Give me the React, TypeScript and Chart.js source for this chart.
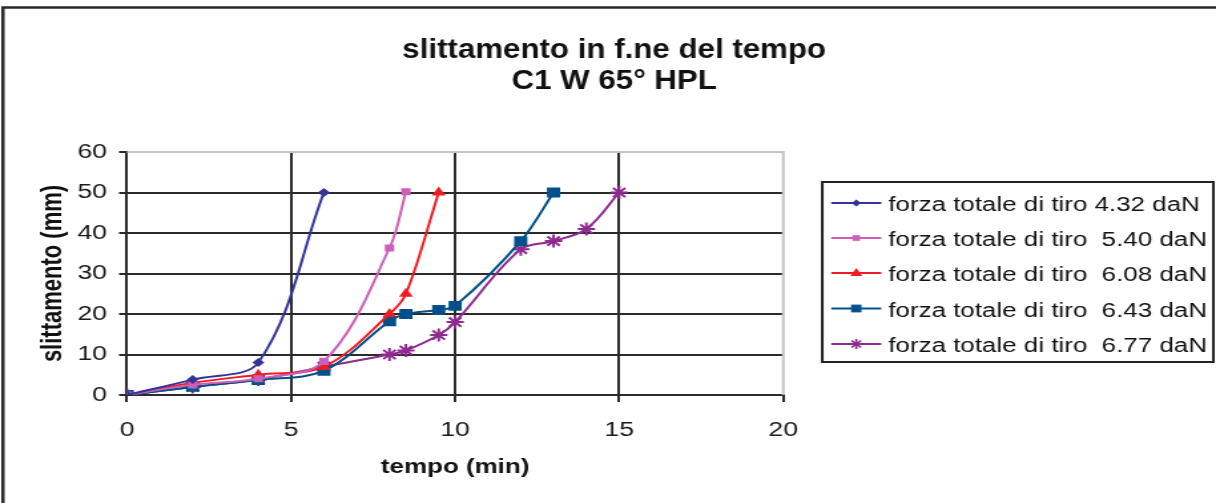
import React, { useEffect, useRef } from 'react';
import { Chart, registerables } from 'chart.js';

Chart.register(...registerables);

// ---------- data ----------
const TITLE_LINES = ['slittamento in f.ne del tempo', 'C1 W 65° HPL'];
const X_TITLE = 'tempo (min)';
const Y_TITLE = 'slittamento (mm)';
const X_TICKS = [0, 5, 10, 15, 20];
const Y_TICKS = [0, 10, 20, 30, 40, 50, 60];

const SERIES_LABELS = [
  'forza totale di tiro 4.32 daN',
  'forza totale di tiro  5.40 daN',
  'forza totale di tiro  6.08 daN',
  'forza totale di tiro  6.43 daN',
  'forza totale di tiro  6.77 daN',
];

const S1_X = [0, 2, 4, 6];
const S1_Y = [0, 3.8, 8, 50];
const S2_X = [0, 2, 4, 6, 8, 8.5];
const S2_Y = [0, 2.5, 4, 8.3, 36.3, 50.2];
const S3_X = [0, 2, 4, 6, 8, 8.5, 9.5];
const S3_Y = [0, 3, 5, 7, 20, 25, 50];
const S4_X = [0, 2, 4, 6, 8, 8.5, 9.5, 10, 12, 13];
const S4_Y = [0, 2, 3.7, 6, 18.2, 20, 21, 22, 38, 50];
const S5_X = [0, 2, 4, 6, 8, 8.5, 9.5, 10, 12, 13, 14, 15];
const S5_Y = [0, 2, 3.8, 7, 10, 11, 14.8, 18, 36, 38, 41, 50];

const SERIES_X = [S1_X, S2_X, S3_X, S4_X, S5_X];
const SERIES_Y = [S1_Y, S2_Y, S3_Y, S4_Y, S5_Y];

const COLORS = ['#333399', '#CC60B8', '#F01C24', '#00508C', '#8E2A90'];
const POINT_STYLES = ['rectRot', 'rect', 'triangle', 'rect', 'star'];
const POINT_RADII = [4.5, 5, 6, 7, 6.5];
const LEGEND_RADII = [3.5, 4, 5, 5.5, 5];

// ---------- layout (display px; canvas is stretched horizontally) ----------
const DISPLAY_W = 1216;
const H = 503;
const STRETCH = 1.33;
const W = Math.round(DISPLAY_W / STRETCH);
const FONT = '"Liberation Sans", Arial, sans-serif';
const ix = (x: number) => x / STRETCH;

const AREA_LEFT = ix(127);
const AREA_RIGHT = ix(783);
const AREA_TOP = 152;
const AREA_BOTTOM = 395;

function drawMarker(ctx: CanvasRenderingContext2D, style: string, x: number, y: number, r: number, color: string) {
  ctx.save();
  ctx.fillStyle = color;
  ctx.strokeStyle = color;
  ctx.lineWidth = 1.5;
  ctx.beginPath();
  if (style === 'rectRot') {
    ctx.moveTo(x, y - r);
    ctx.lineTo(x + r, y);
    ctx.lineTo(x, y + r);
    ctx.lineTo(x - r, y);
    ctx.closePath();
    ctx.fill();
  } else if (style === 'rect') {
    const s = r * Math.SQRT1_2;
    ctx.rect(x - s, y - s, 2 * s, 2 * s);
    ctx.fill();
  } else if (style === 'triangle') {
    ctx.moveTo(x, y - r);
    ctx.lineTo(x + r * 0.9, y + r * 0.6);
    ctx.lineTo(x - r * 0.9, y + r * 0.6);
    ctx.closePath();
    ctx.fill();
  } else if (style === 'star') {
    ctx.lineWidth = 1.6;
    for (let k = 0; k < 4; k++) {
      const a = (k * Math.PI) / 4;
      ctx.moveTo(x - Math.cos(a) * r, y - Math.sin(a) * r);
      ctx.lineTo(x + Math.cos(a) * r, y + Math.sin(a) * r);
    }
    ctx.stroke();
  }
  ctx.restore();
}

function drawTallText(ctx: CanvasRenderingContext2D, text: string, x: number, baseline: number, sy: number) {
  ctx.save();
  ctx.translate(x, baseline);
  ctx.scale(1, sy);
  ctx.fillText(text, 0, 0);
  ctx.restore();
}

const decorPlugin = {
  id: 'decor',
  beforeDraw(chart: any) {
    const { ctx } = chart;
    ctx.save();
    ctx.fillStyle = '#ffffff';
    ctx.fillRect(0, 0, chart.width, chart.height);
    // outer chart border (top and left visible)
    ctx.strokeStyle = '#2a2a2a';
    ctx.lineWidth = 2.5;
    ctx.beginPath();
    ctx.moveTo(ix(3), H);
    ctx.lineTo(ix(3), 7.5);
    ctx.lineTo(chart.width + 2, 7.5);
    ctx.stroke();
    // title
    ctx.fillStyle = '#111111';
    ctx.font = `bold 23.5px ${FONT}`;
    ctx.textAlign = 'center';
    ctx.textBaseline = 'alphabetic';
    drawTallText(ctx, TITLE_LINES[0], ix(614), 58, 1.2);
    drawTallText(ctx, TITLE_LINES[1], ix(614), 88.5, 1.2);
    ctx.restore();
  },
  beforeDatasetsDraw(chart: any) {
    const { ctx, chartArea: a } = chart;
    ctx.save();
    ctx.strokeStyle = '#c4c4c4';
    ctx.lineWidth = 2;
    ctx.beginPath();
    ctx.moveTo(a.left, a.top);
    ctx.lineTo(a.right, a.top);
    ctx.lineTo(a.right, a.bottom);
    ctx.stroke();
    ctx.restore();
  },
  afterDraw(chart: any) {
    const { ctx } = chart;
    ctx.save();
    // legend box
    const bx = ix(822);
    const by = 182;
    const bw = ix(1213) - ix(822);
    const bh = 180;
    ctx.strokeStyle = '#222222';
    ctx.lineWidth = 2;
    ctx.strokeRect(bx, by, bw, bh);
    const rowY = [203, 238, 273, 308.5, 344];
    chart.data.datasets.forEach((ds: any, i: number) => {
      const y = rowY[i];
      ctx.strokeStyle = ds.borderColor;
      ctx.lineWidth = 2;
      ctx.beginPath();
      ctx.moveTo(ix(831), y);
      ctx.lineTo(ix(881), y);
      ctx.stroke();
      drawMarker(ctx, POINT_STYLES[i], ix(856), y, LEGEND_RADII[i], ds.borderColor);
      ctx.fillStyle = '#111111';
      ctx.font = `19.5px ${FONT}`;
      ctx.textAlign = 'left';
      ctx.textBaseline = 'alphabetic';
      drawTallText(ctx, ds.label, ix(888), y + 8, 1.08);
    });
    ctx.restore();
  },
};

export default function App() {
  const ref = useRef<HTMLCanvasElement | null>(null);

  useEffect(() => {
    document.body.style.margin = '0';
    const canvas = ref.current;
    if (!canvas) return;
    const datasets = SERIES_LABELS.map((label, i) => ({
      label,
      data: SERIES_X[i].map((x, j) => ({ x, y: SERIES_Y[i][j] })),
      showLine: true,
      borderColor: COLORS[i],
      backgroundColor: COLORS[i],
      borderWidth: 2,
      tension: 0.35,
      pointStyle: POINT_STYLES[i] as any,
      pointRadius: POINT_RADII[i],
      pointBorderWidth: POINT_STYLES[i] === 'star' ? 2 : 0,
      pointBorderColor: COLORS[i],
      pointBackgroundColor: COLORS[i],
    }));

    const chart = new Chart(canvas, {
      type: 'scatter',
      data: { datasets },
      options: {
        responsive: false,
        animation: false,
        devicePixelRatio: 1,
        layout: {
          padding: { left: 0, right: W - AREA_RIGHT, top: AREA_TOP, bottom: 0 },
        },
        plugins: {
          legend: { display: false },
          title: { display: false },
          tooltip: { enabled: false },
        },
        scales: {
          x: {
            type: 'linear',
            min: 0,
            max: 20,
            afterBuildTicks: (s: any) => {
              s.ticks = X_TICKS.map((v) => ({ value: v }));
            },
            afterFit: (s: any) => {
              s.height = H - AREA_BOTTOM;
            },
            grid: {
              color: (c: any) => (c.tick && (c.tick.value === 20 || c.tick.value === 0) ? 'rgba(0,0,0,0)' : '#2b2b2b'),
              lineWidth: 2,
              tickColor: '#2b2b2b',
              tickLength: 7,
              drawTicks: true,
            },
            border: { color: '#2b2b2b', width: 2 },
            ticks: {
              color: '#1a1a1a',
              font: { family: FONT, size: 20 },
              padding: 16,
              maxRotation: 0,
            },
            title: {
              display: true,
              text: X_TITLE,
              color: '#111111',
              font: { family: FONT, size: 19.5, weight: 'bold' },
              padding: { top: 0, bottom: 24 },
            },
          },
          y: {
            type: 'linear',
            min: 0,
            max: 60,
            afterBuildTicks: (s: any) => {
              s.ticks = Y_TICKS.map((v) => ({ value: v }));
            },
            afterFit: (s: any) => {
              s.width = AREA_LEFT;
            },
            grid: {
              color: (c: any) => (c.tick && (c.tick.value === 60 || c.tick.value === 0) ? 'rgba(0,0,0,0)' : '#2b2b2b'),
              lineWidth: 2,
              tickColor: '#2b2b2b',
              tickLength: ix(8),
              drawTicks: true,
            },
            border: { color: '#2b2b2b', width: 2 },
            ticks: {
              color: '#1a1a1a',
              font: { family: FONT, size: 20 },
              padding: 9,
            },
            title: {
              display: true,
              text: Y_TITLE,
              color: '#111111',
              font: { family: FONT, size: 22, weight: 'bold' },
              padding: { top: 26.5, bottom: 0 },
            },
          },
        },
      },
      plugins: [decorPlugin],
    });
    return () => chart.destroy();
  }, []);

  return (
    <div style={{ width: DISPLAY_W, height: H, overflow: 'hidden', background: '#fff' }}>
      <div style={{ transform: `scaleX(${DISPLAY_W / W})`, transformOrigin: '0 0', width: W, height: H }}>
        <canvas ref={ref} width={W} height={H} style={{ display: 'block' }} />
      </div>
    </div>
  );
}
